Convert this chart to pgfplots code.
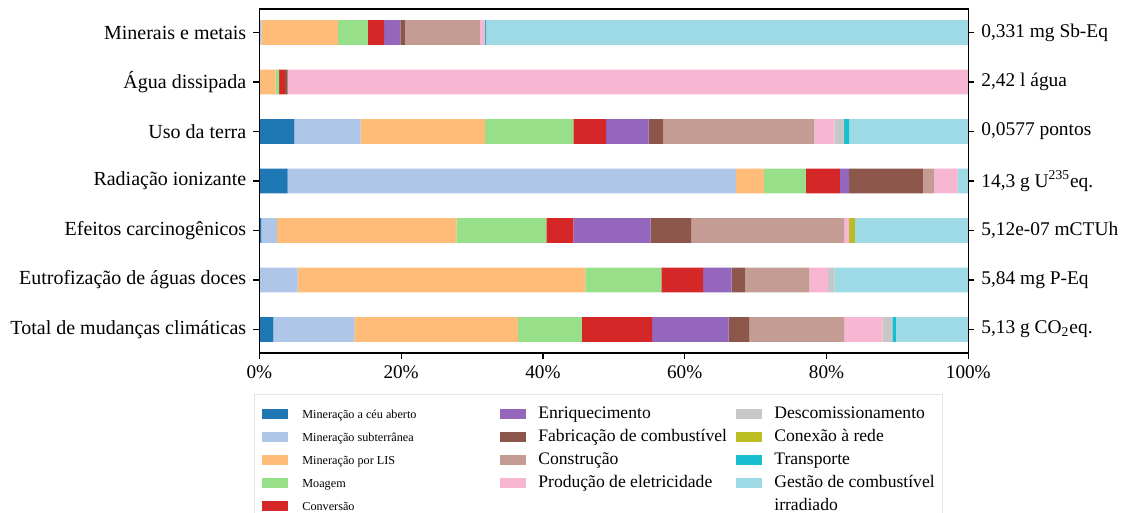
\documentclass[border=0pt]{standalone}
\usepackage{fontspec}
\setmainfont{Liberation Serif}
\usepackage{pgfplots}
\pgfplotsset{compat=1.18}
\definecolor{c1}{HTML}{1F77B4}
\definecolor{c2}{HTML}{AEC7E8}
\definecolor{c3}{HTML}{FFBB78}
\definecolor{c4}{HTML}{98DF8A}
\definecolor{c5}{HTML}{D62728}
\definecolor{c6}{HTML}{9467BD}
\definecolor{c7}{HTML}{8C564B}
\definecolor{c8}{HTML}{C49C94}
\definecolor{c9}{HTML}{F7B6D2}
\definecolor{c10}{HTML}{C7C7C7}
\definecolor{c11}{HTML}{BCBD22}
\definecolor{c12}{HTML}{17BECF}
\definecolor{c13}{HTML}{9EDAE5}
\newcommand{\lone}[1]{\makebox[100pt][l]{\hspace{1pt}\fontsize{6.1}{7}\selectfont #1}}
\newcommand{\ltwo}[1]{\makebox[99pt][l]{#1}}
\begin{document}
\begin{tikzpicture}
\useasboundingbox (0,0) rectangle (562pt,256.5pt);
\begin{axis}[
  at={(129.65pt,80pt)}, anchor=south west,
  scale only axis, width=354.5pt, height=172pt,
  xbar stacked, bar width=0.5,
  xmin=0, xmax=100, ymin=-0.475, ymax=6.475,
  y dir=reverse,
  ytick={0,...,6},
  yticklabels={Minerais e metais, Água dissipada, Uso da terra, Radiação ionizante, Efeitos carcinogênicos, Eutrofização de águas doces, Total de mudanças climáticas},
  yticklabel style={font=\fontsize{10}{12}\selectfont},
  xtick={0,20,40,60,80,100},
  xticklabels={0\%,20\%,40\%,60\%,80\%,100\%},
  xtick pos=lower, ytick pos=left,
  tick align=outside, major tick length=3pt,
  font=\fontsize{9.6}{11}\selectfont,
  axis line style={line width=0.6pt},
  every tick/.style={black, line width=0.6pt},
  every axis plot/.append style={draw=none},
  legend columns=5, transpose legend,
  legend image code/.code={\fill[#1] (0pt,-2.6pt) rectangle (13pt,2.6pt);},
  legend style={at={(-0.0075,-0.119)}, anchor=north west, draw=gray!20,
    inner sep=4pt, row sep=0pt,
    font=\fontsize{8.8}{10}\selectfont,
    nodes={inner sep=0pt, text height=8pt, text depth=3.5pt},
    /tikz/every odd column/.append style={column sep=6pt}},
  legend cell align=left,
]
\addplot[fill=c1] coordinates {(0,0) (0,1) (4.95,2) (4.0,3) (0.3,4) (0,5) (2.0,6)};
\addlegendentry{\lone{Mineração a céu aberto}}
\addplot[fill=c2] coordinates {(0.3,0) (0.1,1) (9.35,2) (63.2,3) (2.2,4) (5.4,5) (11.4,6)};
\addlegendentry{\lone{Mineração subterrânea}}
\addplot[fill=c3] coordinates {(10.8,0) (2.2,1) (17.5,2) (4.0,3) (25.3,4) (40.6,5) (23.1,6)};
\addlegendentry{\lone{Mineração por LIS}}
\addplot[fill=c4] coordinates {(4.2,0) (0.5,1) (12.5,2) (5.9,3) (12.7,4) (10.7,5) (9.0,6)};
\addlegendentry{\lone{Moagem}}
\addplot[fill=c5] coordinates {(2.3,0) (0.8,1) (4.6,2) (4.8,3) (3.8,4) (5.9,5) (9.9,6)};
\addlegendentry{\lone{Conversão}}
\addplot[fill=c6] coordinates {(2.3,0) (0,1) (6.0,2) (1.3,3) (10.9,4) (4.0,5) (10.8,6)};
\addlegendentry{\ltwo{Enriquecimento}}
\addplot[fill=c7] coordinates {(0.7,0) (0.4,1) (2.1,2) (10.4,3) (5.7,4) (1.9,5) (2.9,6)};
\addlegendentry{\ltwo{Fabricação de combustível}}
\addplot[fill=c8] coordinates {(10.5,0) (0,1) (21.3,2) (1.6,3) (21.6,4) (9.1,5) (13.4,6)};
\addlegendentry{\ltwo{Construção}}
\addplot[fill=c9] coordinates {(0.7,0) (96.0,1) (2.8,2) (3.3,3) (0.7,4) (2.6,5) (5.4,6)};
\addlegendentry{\ltwo{Produção de eletricidade}}
\addlegendimage{empty legend}\addlegendentry{}
\addplot[fill=c10] coordinates {(0,0) (0,1) (1.4,2) (0,3) (0,4) (0.9,5) (1.4,6)};
\addlegendentry{Descomissionamento}
\addplot[fill=c11] coordinates {(0,0) (0,1) (0,2) (0,3) (0.8,4) (0,5) (0,6)};
\addlegendentry{Conexão à rede}
\addplot[fill=c12] coordinates {(0.2,0) (0,1) (0.7,2) (0,3) (0,4) (0,5) (0.5,6)};
\addlegendentry{Transporte}
\addplot[fill=c13] coordinates {(68.0,0) (0,1) (16.8,2) (1.5,3) (16.0,4) (18.9,5) (10.2,6)};
\addlegendentry{Gestão de combustível}
\addlegendimage{empty legend}\addlegendentry{irradiado}
\end{axis}
\begin{axis}[
  at={(129.65pt,80pt)}, anchor=south west,
  scale only axis, width=354.5pt, height=172pt,
  xmin=0, xmax=100, ymin=-0.475, ymax=6.475,
  y dir=reverse,
  xtick=\empty,
  ytick={0,...,6},
  yticklabels={{0,331 mg Sb-Eq}, {2,42 l água}, {0,0577 pontos}, {14,3 g U\textsuperscript{235}eq.}, {5,12e-07 mCTUh}, {5,84 mg P-Eq}, {5,13 g CO\textsubscript{2}eq.}},
  ytick pos=right, yticklabel pos=right,
  tick align=outside, major tick length=3pt,
  font=\fontsize{9.7}{11}\selectfont,
  axis line style={line width=0.6pt},
  every tick/.style={black, line width=0.6pt},
]
\end{axis}
\end{tikzpicture}
\end{document}
